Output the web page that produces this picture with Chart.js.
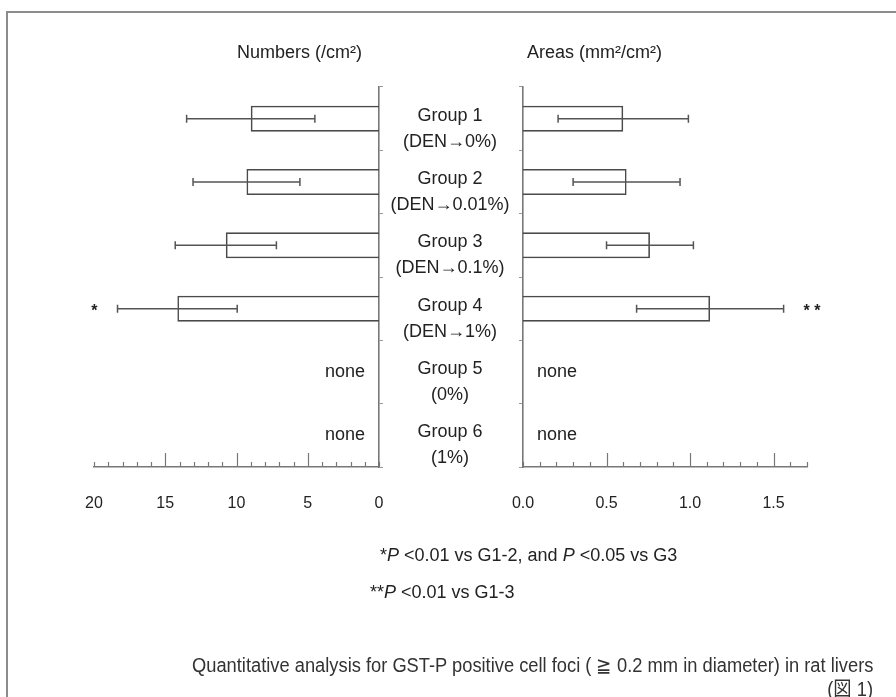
<!DOCTYPE html>
<html>
<head>
<meta charset="utf-8">
<script src="https://cdn.jsdelivr.net/npm/chart.js@4.4.0/dist/chart.umd.min.js"></script>
<style>
html, body { margin: 0; padding: 0; background: #fff; }
#fig { position: relative; width: 896px; height: 697px; overflow: hidden; font-family: 'Liberation Sans', Arial, sans-serif; color: #222; }
#fig canvas { position: absolute; left: 0; top: 0; }
.frameTop { position: absolute; left: 6px; top: 11px; width: 890px; height: 2px; background: #8c8c8c; }
.frameLeft { position: absolute; left: 6px; top: 11px; width: 2px; height: 686px; background: #8c8c8c; }
.t { position: absolute; white-space: nowrap; font-size: 18px; line-height: 22px; }
.cap { font-size: 20px; color: #333; transform: scaleX(0.915); }
</style>
</head>
<body>
<div id="fig">
  <div class="frameTop"></div>
  <div class="frameLeft"></div>
  <canvas id="cLeft" width="896" height="697"></canvas>
  <canvas id="cRight" width="896" height="697"></canvas>
  <div class="t" style="left:237px;top:41px;">Numbers (/cm²)</div>
  <div class="t" style="left:527px;top:41px;">Areas (mm²/cm²)</div>
  <div class="t" style="left:380px;top:544px;">*<i>P</i> &lt;0.01 vs G1-2, and <i>P</i> &lt;0.05 vs G3</div>
  <div class="t" style="left:370px;top:581px;">**<i>P</i> &lt;0.01 vs G1-3</div>
  <div class="t cap" style="left:192px;top:654px;transform-origin:left center;">Quantitative analysis for GST-P positive cell foci ( ≧ 0.2 mm in diameter) in rat livers</div>
  <div class="t cap" style="right:23px;top:677px;transform-origin:right center;">(<span style="font-family:'Noto Sans CJK JP';">図</span> 1)</div>
</div>
<script>
// groups (middle labels)
var GROUPS = [
    ['Group 1', '(DEN→0%)'],
    ['Group 2', '(DEN→0.01%)'],
    ['Group 3', '(DEN→0.1%)'],
    ['Group 4', '(DEN→1%)'],
    ['Group 5', '(0%)'],
    ['Group 6', '(1%)']
];

// Numbers (/cm2): mean and SD, null = none
var NUM_MEAN  = [9.0, 9.3, 10.75, 14.15, null, null];
var NUM_SD    = [4.5, 3.75, 3.55, 4.2, null, null];
var NUM_STARS = ['', '', '', '*', '', ''];
var NUM_TICKS = [0, 5, 10, 15, 20];

// Areas (mm2/cm2)
var AREA_MEAN  = [0.6, 0.62, 0.76, 1.12, null, null];
var AREA_SD    = [0.39, 0.32, 0.26, 0.44, null, null];
var AREA_STARS = ['', '', '', '* *', '', ''];
var AREA_TICKS = [0, 0.5, 1.0, 1.5];

var FONT = "'Liberation Sans', Arial, sans-serif";
Chart.defaults.font.family = FONT;
Chart.defaults.color = '#222';

// error bars, inward axis ticks, "none" and stars
var extras = {
    id: 'extras',
    afterDatasetsDraw: function(chart, args, opts) {
        var ctx = chart.ctx, x = chart.scales.x, y = chart.scales.y;
        var ds = chart.data.datasets[0];
        var area = chart.chartArea;
        ctx.save();

        // tick marks pointing up from the value axis
        ctx.strokeStyle = '#777';
        ctx.lineWidth = 1.2;
        for (var k = 0; ; k++) {
            var v = k * opts.minor;
            if (v > x.max + 1e-9) break;
            var px = Math.round(x.getPixelForValue(v)) + 0.5;
            var r = v / opts.major;
            var isMajor = Math.abs(r - Math.round(r)) < 1e-6 && v > 0 && v < opts.lastMajor + 1e-9;
            ctx.beginPath();
            ctx.moveTo(px, area.bottom);
            ctx.lineTo(px, area.bottom - (isMajor ? 14 : 5));
            ctx.stroke();
        }

        ctx.strokeStyle = '#555';
        ctx.lineWidth = 1.5;
        ctx.fillStyle = '#222';
        for (var i = 0; i < ds.data.length; i++) {
            var yc = y.getPixelForValue(i);
            var m = ds.data[i];
            if (m === null) {
                ctx.font = '18px ' + FONT;
                ctx.textBaseline = 'middle';
                ctx.textAlign = opts.side < 0 ? 'right' : 'left';
                ctx.fillText('none', x.getPixelForValue(0) + opts.side * 14, yc);
                continue;
            }
            var sd = ds.sd[i];
            var a = x.getPixelForValue(m - sd), b = x.getPixelForValue(m + sd);
            ctx.beginPath();
            ctx.moveTo(a, yc); ctx.lineTo(b, yc);
            ctx.moveTo(a, yc - 4); ctx.lineTo(a, yc + 4);
            ctx.moveTo(b, yc - 4); ctx.lineTo(b, yc + 4);
            ctx.stroke();
            if (ds.stars[i]) {
                ctx.font = 'bold 16px ' + FONT;
                ctx.textBaseline = 'middle';
                ctx.textAlign = opts.side < 0 ? 'right' : 'left';
                ctx.fillText(ds.stars[i], b + opts.side * 20, yc + 3);
            }
        }
        ctx.restore();
    }
};

function barDataset(mean, sd, stars) {
    return {
        data: mean,
        sd: sd,
        stars: stars,
        backgroundColor: 'rgba(255,255,255,0)',
        borderColor: '#4a4a4a',
        borderWidth: 1.6,
        barPercentage: 0.41,
        categoryPercentage: 1
    };
}

function xAxis(max, reverse, ticks, fmt) {
    return {
        type: 'linear',
        min: 0,
        max: max,
        reverse: reverse,
        grid: { display: false },
        border: { display: true, color: '#777', width: 1.6 },
        afterBuildTicks: function(s) { s.ticks = ticks.map(function(v) { return { value: v }; }); },
        afterFit: function(s) { s.height = 60; },
        ticks: {
            padding: 19,
            color: '#222',
            font: { size: 16 },
            maxRotation: 0,
            callback: fmt
        }
    };
}

// left: Numbers
new Chart(document.getElementById('cLeft'), {
    type: 'bar',
    data: { labels: GROUPS, datasets: [barDataset(NUM_MEAN, NUM_SD, NUM_STARS)] },
    options: {
        indexAxis: 'y',
        responsive: false,
        animation: false,
        layout: { padding: { left: 94, right: 507, top: 87, bottom: 170 } },
        plugins: { legend: { display: false }, tooltip: { enabled: false },
                   extras: { minor: 1, major: 5, lastMajor: 15, side: -1 } },
        scales: {
            x: xAxis(20, true, NUM_TICKS, function(v) { return String(v); }),
            y: {
                type: 'category',
                position: 'right',
                grid: { drawOnChartArea: false, tickLength: 4, color: '#999' },
                border: { display: true, color: '#777', width: 1.6 },
                ticks: { display: false },
                afterFit: function(s) { s.width = 10; }
            }
        }
    },
    plugins: [extras]
});

// middle labels are the right chart's category ticks, centred at x = 450
var LABEL_FONT = 18;
var mctx = document.createElement('canvas').getContext('2d');
mctx.font = LABEL_FONT + 'px ' + FONT;
var widest = 0;
GROUPS.forEach(function(g) { g.forEach(function(s) { widest = Math.max(widest, mctx.measureText(s).width); }); });
var labelPad = 523 - 4 - 450 - widest / 2;

// right: Areas
new Chart(document.getElementById('cRight'), {
    type: 'bar',
    data: { labels: GROUPS, datasets: [barDataset(AREA_MEAN, AREA_SD, AREA_STARS)] },
    options: {
        indexAxis: 'y',
        responsive: false,
        animation: false,
        layout: { padding: { left: 379, right: 89, top: 87, bottom: 170 } },
        plugins: { legend: { display: false }, tooltip: { enabled: false },
                   extras: { minor: 0.1, major: 0.5, lastMajor: 1.5, side: 1 } },
        scales: {
            x: xAxis(1.7, false, AREA_TICKS, function(v) { return v.toFixed(1); }),
            y: {
                type: 'category',
                position: 'left',
                grid: { drawOnChartArea: false, tickLength: 4, color: '#999' },
                border: { display: true, color: '#777', width: 1.6 },
                ticks: {
                    autoSkip: false,
                    crossAlign: 'center',
                    padding: labelPad,
                    labelOffset: 10,
                    color: '#222',
                    font: { size: LABEL_FONT, lineHeight: 1.45 }
                },
                afterFit: function(s) { s.width = 144; }
            }
        }
    },
    plugins: [extras]
});
</script>
</body>
</html>
